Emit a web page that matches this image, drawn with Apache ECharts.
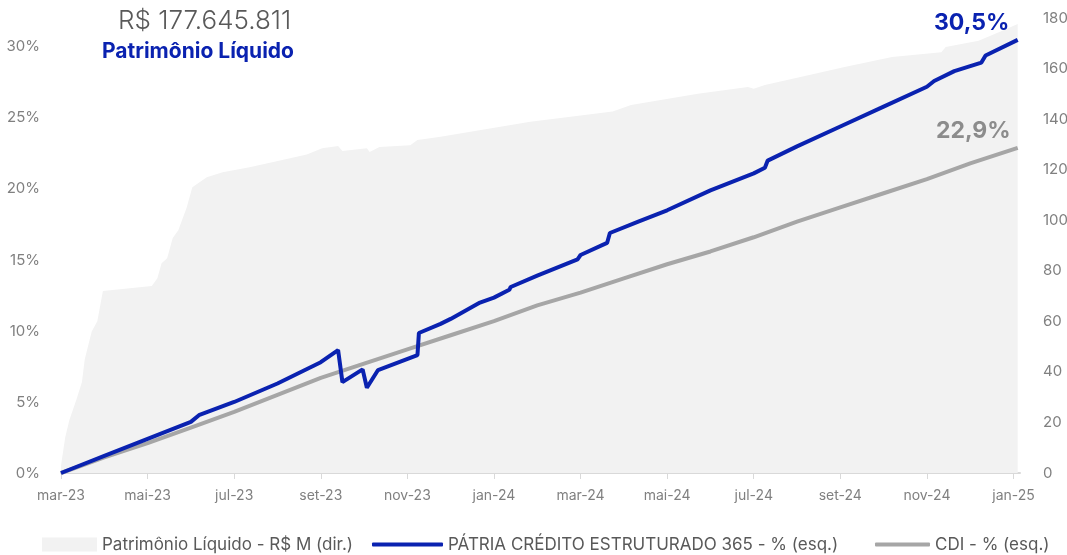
<!DOCTYPE html>
<html>
<head>
<meta charset="utf-8">
<script src="https://cdn.jsdelivr.net/npm/echarts@6/dist/echarts.min.js"></script>
<style>
  html, body { margin: 0; padding: 0; background: #fff; }
  #main { width: 1067px; height: 555px; }
</style>
</head>
<body>
<div id="main"></div>
<script>
// eixo x: rótulos a cada 2 meses
var tickLabels = ['mar-23', 'mai-23', 'jul-23', 'set-23', 'nov-23', 'jan-24',
  'mar-24', 'mai-24', 'jul-24', 'set-24', 'nov-24', 'jan-25'];

// Patrimônio Líquido - R$ M (dir.)
var plDates = ['2023-03-01', '2023-03-04', '2023-03-07', '2023-03-12', '2023-03-16', '2023-03-18',
  '2023-03-23', '2023-03-27', '2023-03-31', '2023-05-04', '2023-05-08', '2023-05-11', '2023-05-15',
  '2023-05-19', '2023-05-23', '2023-05-29', '2023-06-02', '2023-06-12', '2023-06-23', '2023-07-12',
  '2023-07-29', '2023-08-22', '2023-09-02', '2023-09-13', '2023-09-16', '2023-10-03', '2023-10-05',
  '2023-10-12', '2023-11-03', '2023-11-04', '2023-11-08', '2023-11-24', '2024-01-27', '2024-03-24',
  '2024-04-06', '2024-05-23', '2024-06-27', '2024-07-01', '2024-07-09', '2024-08-09', '2024-09-04',
  '2024-10-07', '2024-11-11', '2024-11-14', '2024-12-07', '2024-12-24', '2025-01-04'];
var plValues = [3, 14, 21, 29, 36, 45,
  56, 60, 72, 74, 77, 83, 85,
  93, 96, 105, 113, 117, 119, 121,
  123, 126, 128.5, 129.4, 127.4, 128.5, 127,
  129, 129.7, 129, 131.7, 133, 139, 143,
  145.6, 150, 152.7, 152, 153.5, 157.4, 160.6,
  164.6, 166.5, 168.5, 171, 175, 177.6];

// PÁTRIA CRÉDITO ESTRUTURADO 365 - % (esq.)
var fundDates = ['2023-03-01', '2023-04-01', '2023-05-01', '2023-06-01', '2023-06-07', '2023-07-01',
  '2023-08-01', '2023-09-01', '2023-09-13', '2023-09-16', '2023-09-30', '2023-10-03', '2023-10-11',
  '2023-11-08', '2023-11-09', '2023-11-24', '2023-12-01', '2023-12-22', '2024-01-01', '2024-01-12',
  '2024-01-13', '2024-02-01', '2024-02-28', '2024-03-01', '2024-03-20', '2024-03-22', '2024-04-11',
  '2024-05-01', '2024-06-01', '2024-07-01', '2024-07-09', '2024-07-11', '2024-08-01', '2024-09-01',
  '2024-10-01', '2024-11-01', '2024-11-06', '2024-11-20', '2024-12-09', '2024-12-12', '2025-01-04'];
var fundValues = [0, 1.2, 2.4, 3.6, 4.1, 5.0,
  6.3, 7.8, 8.66, 6.4, 7.3, 6.0, 7.25,
  8.3, 9.86, 10.5, 10.85, 12.0, 12.35, 12.9,
  13.1, 13.9, 15.05, 15.35, 16.2, 16.9, 17.7,
  18.5, 19.9, 21.1, 21.5, 22.0, 23.0, 24.4,
  25.8, 27.2, 27.6, 28.3, 28.9, 29.4, 30.5];

// CDI - % (esq.)
var cdiDates = ['2023-03-01', '2023-04-01', '2023-05-01', '2023-06-01', '2023-07-01', '2023-08-01',
  '2023-09-01', '2023-10-01', '2023-11-01', '2023-12-01', '2024-01-01', '2024-02-01', '2024-03-01',
  '2024-04-01', '2024-05-01', '2024-06-01', '2024-07-01', '2024-08-01', '2024-09-01', '2024-10-01',
  '2024-11-01', '2024-12-01', '2025-01-04'];
var cdiValues = [0, 1.1, 2.1, 3.2, 4.3, 5.5,
  6.7, 7.7, 8.7, 9.7, 10.7, 11.8, 12.7,
  13.7, 14.7, 15.6, 16.6, 17.7, 18.7, 19.7,
  20.7, 21.8, 22.9];

// data -> índice de mês a partir de mar-23
function monthIdx(s) {
  var p = s.split('-').map(Number);
  var dim = new Date(p[0], p[1], 0).getDate();
  return (p[0] - 2023) * 12 + (p[1] - 3) + (p[2] - 1) / dim;
}
function pairs(dates, values) {
  return dates.map(function (d, i) { return [monthIdx(d), values[i]]; });
}

var FONT = 'Inter, "Noto Sans", sans-serif';
var BLUE = '#0a22b0';
var GRAY = '#a6a6a6';
var AREA = '#f2f2f2';
var NAME_PL = 'Patrimônio Líquido - R$ M (dir.)';
var NAME_FUND = 'PÁTRIA CRÉDITO ESTRUTURADO 365 - % (esq.)';
var NAME_CDI = 'CDI - % (esq.)';

var legendText = { fontSize: 17, color: '#595959', fontFamily: FONT };

var myChart = echarts.init(document.getElementById('main'));
myChart.setOption({
  animation: false,
  textStyle: { fontFamily: FONT },
  grid: { left: 61, right: 47, top: 18, bottom: 82, outerBoundsMode: 'none' },
  legend: [
    { left: 37, top: 531, itemWidth: 55, itemHeight: 14, textStyle: legendText,
      data: [{ name: NAME_PL, icon: 'rect', itemStyle: { color: AREA } }] },
    { left: 367, top: 531, itemWidth: 71, itemHeight: 4, textStyle: legendText,
      data: [{ name: NAME_FUND, icon: 'roundRect', itemStyle: { color: BLUE } }] },
    { left: 870, top: 531, itemWidth: 55, itemHeight: 4, textStyle: legendText,
      data: [{ name: NAME_CDI, icon: 'roundRect', itemStyle: { color: GRAY } }] }
  ],
  graphic: [
    { type: 'text', z: 100, left: 118, top: 8, style: { text: 'R$ 177.645.811', fontSize: 26, fontWeight: 300, fill: '#595959', fontFamily: FONT } },
    { type: 'text', z: 100, left: 102, top: 41, style: { text: 'Patrimônio Líquido', fontSize: 21, fontWeight: 'bold', fill: BLUE, fontFamily: FONT } },
    { type: 'text', z: 100, left: 934, top: 12, style: { text: '30,5%', fontSize: 23, fontWeight: 'bold', fill: BLUE, fontFamily: FONT } },
    { type: 'text', z: 100, left: 936, top: 120, style: { text: '22,9%', fontSize: 23, fontWeight: 'bold', fill: '#8c8c8c', fontFamily: FONT } }
  ],
  xAxis: {
    type: 'value',
    min: 0,
    max: 22.15,
    splitLine: { show: false },
    axisLine: { lineStyle: { color: '#d9d9d9', width: 2 } },
    axisTick: { show: true, length: 6, lineStyle: { color: '#d9d9d9' }, customValues: [0, 2, 4, 6, 8, 10, 12, 14, 16, 18, 20, 22] },
    axisLabel: {
      margin: 16, fontSize: 14, color: '#808080',
      customValues: [0, 2, 4, 6, 8, 10, 12, 14, 16, 18, 20, 22],
      formatter: function (v) { return tickLabels[Math.round(v / 2)]; }
    }
  },
  yAxis: [
    {
      type: 'value',
      min: 0,
      max: 32.04,
      splitLine: { show: false },
      axisLine: { show: false },
      axisTick: { show: false },
      axisLabel: {
        margin: 21, fontSize: 15, color: '#808080',
        customValues: [0, 5, 10, 15, 20, 25, 30],
        formatter: function (v) { return v + '%'; }
      }
    },
    {
      type: 'value',
      min: 0,
      max: 180,
      interval: 20,
      position: 'right',
      splitLine: { show: false },
      axisLine: { show: false },
      axisTick: { show: false },
      axisLabel: { margin: 23, fontSize: 15, color: '#808080' }
    }
  ],
  series: [
    {
      name: NAME_PL,
      type: 'line',
      yAxisIndex: 1,
      symbol: 'none',
      lineStyle: { width: 0, color: AREA },
      itemStyle: { color: AREA },
      areaStyle: { color: AREA, opacity: 1 },
      data: pairs(plDates, plValues),
      z: 1
    },
    {
      name: NAME_CDI,
      type: 'line',
      yAxisIndex: 0,
      symbol: 'none',
      lineStyle: { width: 4, color: GRAY },
      itemStyle: { color: GRAY },
      data: pairs(cdiDates, cdiValues),
      z: 2
    },
    {
      name: NAME_FUND,
      type: 'line',
      yAxisIndex: 0,
      symbol: 'none',
      lineStyle: { width: 4, color: BLUE },
      itemStyle: { color: BLUE },
      data: pairs(fundDates, fundValues),
      z: 3
    }
  ]
});
</script>
</body>
</html>
